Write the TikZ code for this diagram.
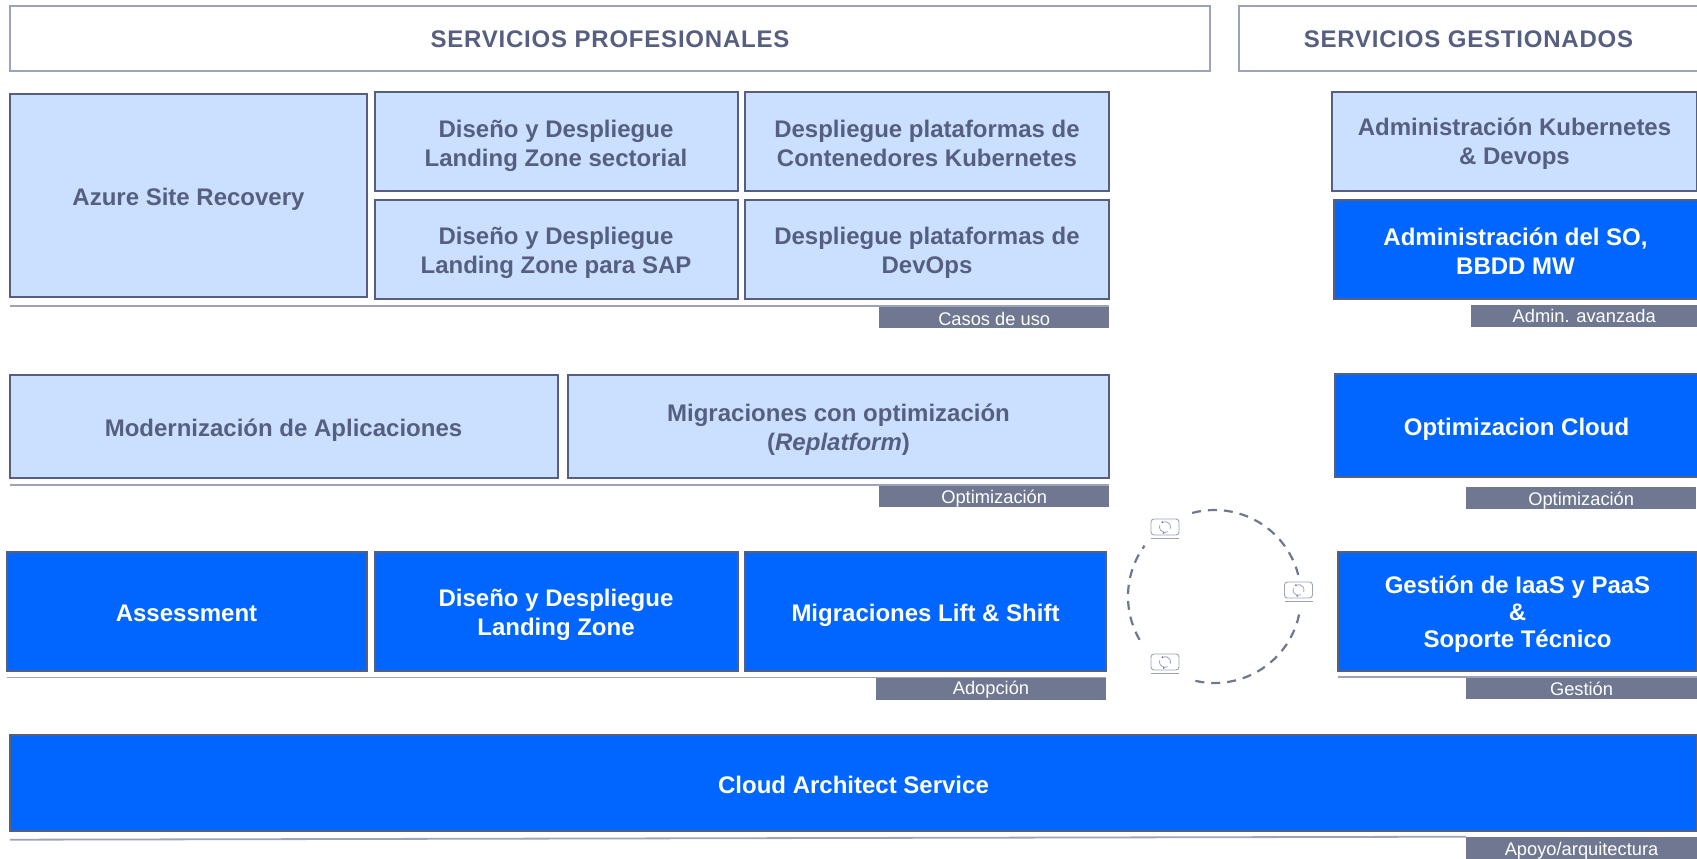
\documentclass[tikz,border=0pt]{standalone}
\usepackage{fontspec}
\setmainfont{Liberation Sans}
\definecolor{paleblue}{HTML}{CBE0FF}
\definecolor{strongblue}{HTML}{0066FF}
\definecolor{slateline}{HTML}{565F80}
\definecolor{slatetag}{HTML}{6F7791}
\definecolor{softline}{HTML}{9CA2B8}
\tikzset{
  headbox/.style={draw=softline, line width=1.2pt, fill=white, text=slateline, font=\fontsize{24}{29}\selectfont\bfseries\addfontfeature{LetterSpace=3.3}, execute at begin node={\rule{0pt}{18.5pt}}},
  palebox/.style={draw=slateline, line width=2pt, fill=paleblue},
  solidbox/.style={draw=slateline, line width=2pt, fill=strongblue},
  boxtext/.style={align=center, font=\fontsize{24}{29}\selectfont\bfseries, inner sep=0pt},
  tagbox/.style={fill=slatetag},
  tagtext/.style={text=white, font=\fontsize{18.3}{21}\selectfont, inner sep=0pt},
  syncbox/.style={draw=softline, line width=.9pt, rounded corners=3pt, fill=white, minimum width=28pt, minimum height=16pt, inner sep=0pt},
}
\begin{document}
\begin{tikzpicture}[x=1pt,y=-1pt]
  \useasboundingbox (0,0) rectangle (1697,859);
  \foreach \name/\x/\y/\w/\h/\txt in {
      headpro/610/38.5/1200/65/{SERVICIOS PROFESIONALES},
      headges/1468.5/38.5/459/65/{SERVICIOS GESTIONADOS}}{
    \node[headbox, minimum width=\w pt, minimum height=\h pt] (\name) at (\x,\y) {\txt};
  }
  \foreach \name/\x/\y/\w/\h/\dy/\txt in {
      azure/188.5/195.5/357/203/4/{Azure Site Recovery},
      landsec/556/141.5/363/99/4.3/{Diseño y Despliegue\\Landing Zone sectorial},
      landsap/556/249/363/99/4.3/{Diseño y Despliegue\\Landing Zone para SAP},
      kubern/927/141.5/364/99/2.2/{Despliegue plataformas de\\Contenedores Kubernetes},
      devops/927/249/364/99/3.5/{Despliegue plataformas de\\DevOps},
      admkub/1514.5/141/365/99/2.5/{Administración Kubernetes\\\& Devops},
      modern/283.5/426.5/548/103/3.3/{Modernización de Aplicaciones},
      replat/838.5/426.5/541/103/3/{Migraciones con optimización\\(\textit{Replatform})}}{
    \node[palebox, minimum width=\w pt, minimum height=\h pt] (\name) at (\x,\y) {};
    \node[boxtext, text=slateline] (\name txt) at ([yshift=-\dy pt]\name.center) {\txt};
  }
  \foreach \name/\x/\y/\w/\h/\dy/\txt in {
      admso/1515.5/249.5/364/99/1.2/{Administración del SO,\\BBDD MW},
      optcloud/1516.5/425.5/363/103/4/{Optimizacion Cloud},
      assess/186.5/611.5/360/119/2/{Assessment},
      landing/556/611.5/363/119/3/{Diseño y Despliegue\\Landing Zone},
      liftshift/925.5/611.5/361/119/4/{Migraciones Lift \& Shift},
      gestion/1517.5/611.5/359/119/2.2/{Gestión de IaaS y PaaS\\[-2pt]\&\\[-2pt]Soporte Técnico},
      archi/853.5/783/1687/96/2/{Cloud Architect Service}}{
    \node[solidbox, minimum width=\w pt, minimum height=\h pt] (\name) at (\x,\y) {};
    \node[boxtext, text=white] (\name txt) at ([yshift=-\dy pt]\name.center) {\txt};
  }
  \foreach \name/\xa/\xb/\y/\dy/\txt in {
      tagcasos/879/1109/306/2.2/{Casos de uso},
      tagavanz/1471/1697/305/0/{Admin. avanzada},
      tagoptim/879/1109/485/2/{Optimización},
      tagoptb/1466/1696/487/2/{Optimización},
      tagadop/875.5/1106/677.5/1/{Adopción},
      taggest/1465.7/1697/677/1/{Gestión},
      tagapoyo/1465.7/1697/836.5/3/{Apoyo/arquitectura}}{
    \node[tagbox, anchor=north west, minimum width=\xb pt-\xa pt, minimum height=22pt, inner sep=0pt] (\name) at (\xa,\y) {};
    \node[tagtext] (\name txt) at ([yshift=-\dy pt]\name.center) {\txt};
  }
  \foreach \xa/\ya/\xb/\yb in {10/306/1109/306, 10/485/1109/485, 6.5/677.5/1106/677.5, 1338/677/1697/677, 10/839.7/1466/836.7}{
    \draw[softline, line width=1.8pt] (\xa,\ya)--(\xb,\yb);
  }
  \coordinate (ring) at (1214.5,596.5);
  \foreach \a/\b in {105/14.5, -12/-103, 210/144}{
    \draw[slatetag, line width=2.2pt, dash pattern=on 9pt off 7pt] (ring) ++(\a:86.5pt) arc[start angle=\a, end angle=\b, radius=86.5pt];
  }
  \foreach \name/\x/\y in {syncup/1165/527, syncright/1298.5/590, syncdown/1165/662}{
    \node[syncbox] (\name) at (\x,\y) {};
    \draw[softline, line width=1pt] (\x-14,\y+11)--(\x+14,\y+11);
    \draw[softline, line width=.8pt] (\name.center) ++(120:5.5pt) arc[start angle=120, end angle=-20, radius=5.5pt];
    \draw[softline, line width=.8pt] (\name.center) ++(-60:5.5pt) arc[start angle=-60, end angle=-200, radius=5.5pt];
    \fill[slatetag] (\name.center) ++(120:5.5pt) circle (1pt);
    \fill[slatetag] (\name.center) ++(-60:5.5pt) ++(-4pt,-1pt) circle (1pt);
  }
\end{tikzpicture}
\end{document}
